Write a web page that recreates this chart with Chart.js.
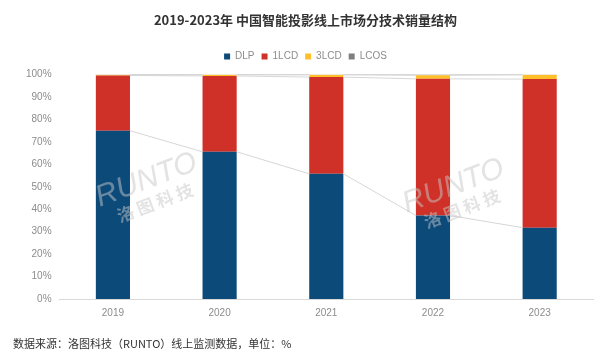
<!DOCTYPE html>
<html>
<head>
<meta charset="utf-8">
<script src="https://cdn.jsdelivr.net/npm/chart.js@4/dist/chart.umd.min.js"></script>
<style>
html,body{margin:0;padding:0;background:#fff;}
#wrap{width:600px;height:361px;position:relative;}
</style>
</head>
<body>
<div id="wrap"><canvas id="c" width="600" height="361"></canvas></div>
<script>
const categories = ['2019', '2020', '2021', '2022', '2023'];
const seriesNames = ['DLP', '1LCD', '3LCD', 'LCOS'];
const dlp  = [75.0, 65.6, 55.8, 37.2, 31.8];
const lcd1 = [24.6, 33.8, 43.1, 60.9, 66.2];
const lcd3 = [0.3, 0.5, 1.0, 1.6, 1.9];
const lcos = [0.1, 0.1, 0.1, 0.3, 0.1];
const yTicks = [0, 10, 20, 30, 40, 50, 60, 70, 80, 90, 100];
const titleText = '2019-2023年 中国智能投影线上市场分技术销量结构';
const sourceText = '数据来源：洛图科技（RUNTO）线上监测数据，单位：%';

const colors = ['#0C4A7A', '#CF3027', '#FFBF2B', '#7F7F7F'];
const values = [dlp, lcd1, lcd3, lcos];

const cjk = "'Noto Sans CJK SC', 'Noto Sans', sans-serif";

const extras = {
  id: 'extras',
  afterDatasetsDraw(chart) {
    const ctx = chart.ctx;
    ctx.save();
    ctx.strokeStyle = '#D6D6D6';
    ctx.lineWidth = 1;
    for (let d = 0; d < chart.data.datasets.length; d++) {
      const meta = chart.getDatasetMeta(d);
      for (let j = 0; j < meta.data.length - 1; j++) {
        const a = meta.data[j], b = meta.data[j + 1];
        ctx.beginPath();
        ctx.moveTo(a.x + a.width / 2, a.y);
        ctx.lineTo(b.x - b.width / 2, b.y);
        ctx.stroke();
      }
    }
    // watermark
    const marks = [[148, 184], [455, 190]];
    marks.forEach(([x, y]) => {
      ctx.save();
      ctx.translate(x, y);
      ctx.rotate(-0.36);
      ctx.fillStyle = 'rgba(200,200,200,0.5)';
      ctx.font = "italic 30px 'Liberation Sans', sans-serif";
      ctx.textAlign = 'center';
      ctx.fillText('RUNTO', 0, -4);
      ctx.font = "bold 17px " + cjk;
      ctx.fillText('洛 图 科 技', 0, 20);
      ctx.restore();
    });
    ctx.restore();
  },
  afterDraw(chart) {
    const ctx = chart.ctx;
    ctx.save();
    ctx.fillStyle = '#333333';
    ctx.font = "11px " + cjk;
    ctx.textBaseline = 'middle';
    ctx.textAlign = 'left';
    ctx.fillText(sourceText, 13, 344);
    ctx.restore();
  }
};

new Chart(document.getElementById('c'), {
  type: 'bar',
  data: {
    labels: categories,
    datasets: seriesNames.map((n, i) => ({
      label: n,
      data: values[i],
      backgroundColor: colors[i],
      borderWidth: 0,
      categoryPercentage: 1.0,
      barPercentage: 0.32
    }))
  },
  options: {
    responsive: false,
    animation: false,
    devicePixelRatio: 1,
    layout: { padding: { left: 18, right: 7, top: 8, bottom: 34 } },
    plugins: {
      title: {
        display: true,
        text: titleText,
        color: '#333333',
        font: { family: cjk, size: 13, weight: 'bold' },
        padding: { top: 4, bottom: 17 }
      },
      legend: {
        display: true,
        position: 'top',
        labels: {
          color: '#8C8C8C',
          boxWidth: 6,
          boxHeight: 6,
          padding: 7,
          font: { family: "'Liberation Sans', sans-serif", size: 10 }
        }
      },
      tooltip: { enabled: false }
    },
    scales: {
      x: {
        stacked: true,
        grid: { display: false, drawTicks: false },
        border: { display: true, color: '#D9D9D9', width: 1 },
        ticks: { color: '#8C8C8C', font: { family: "'Liberation Sans', sans-serif", size: 10 }, padding: 8 }
      },
      xTop: {
        type: 'category',
        position: 'top',
        display: true,
        grid: { display: false, drawTicks: false },
        border: { display: false },
        ticks: { display: false },
        afterFit(scale) { scale.height = 3; }
      },
      y: {
        stacked: true,
        min: 0,
        max: 100,
        afterBuildTicks(axis) { axis.ticks = yTicks.map(v => ({ value: v })); },
        grid: { display: false, drawTicks: false },
        border: { display: false },
        ticks: {
          color: '#8C8C8C',
          font: { family: "'Liberation Sans', sans-serif", size: 10 },
          padding: 8,
          callback: v => v + '%'
        }
      }
    }
  },
  plugins: [extras]
});
</script>
</body>
</html>
